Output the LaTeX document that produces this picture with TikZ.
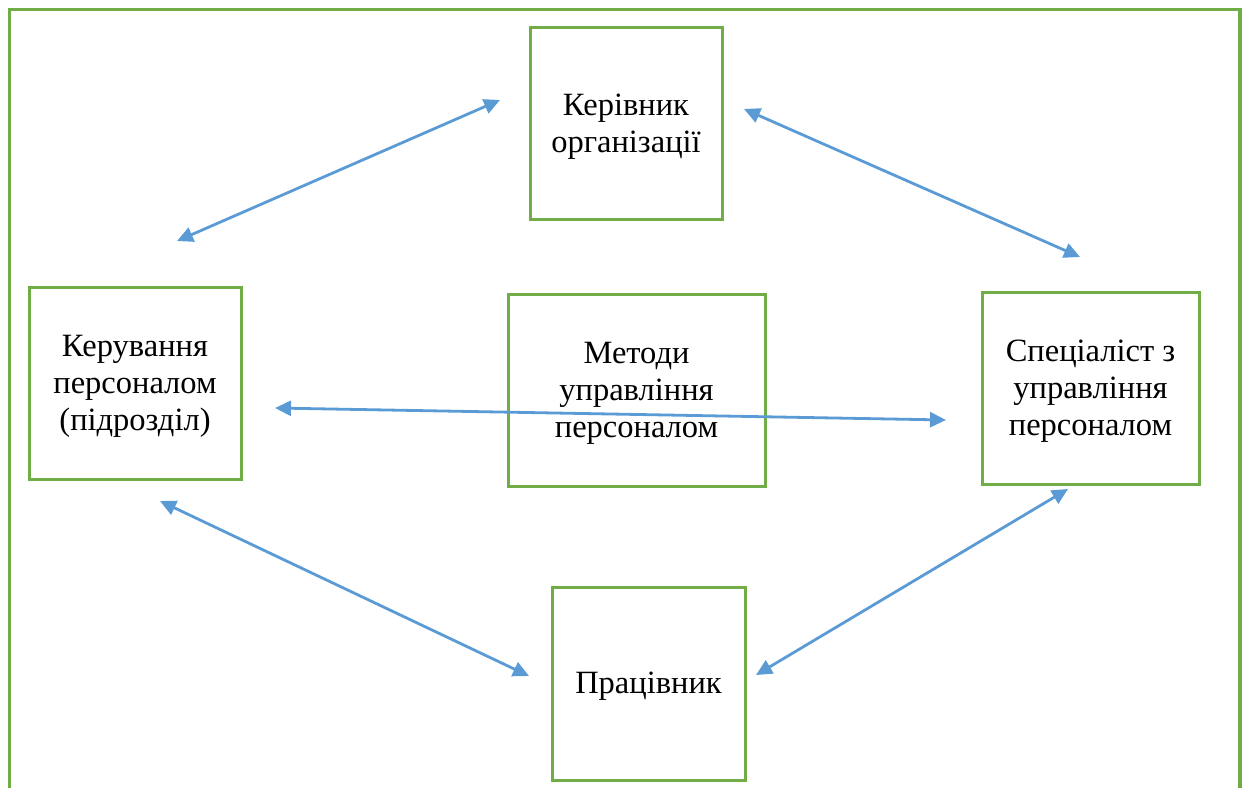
\documentclass[tikz,border=0pt]{standalone}
\usepackage{fontspec}
\setmainfont{Liberation Serif}
\usetikzlibrary{arrows.meta}
\definecolor{boxgreen}{RGB}{112,173,71}
\definecolor{arrblue}{RGB}{91,155,213}
\begin{document}
\begin{tikzpicture}[x=1pt,y=-1pt,
  box/.style={draw=boxgreen,line width=3pt,inner sep=0pt},
  lbl/.style={align=center,inner sep=0pt,yshift=-3.5pt,font=\fontsize{32.5}{37}\selectfont},
  link/.style={draw=arrblue,line width=2.8pt,{Triangle[length=16pt,width=15pt]}-{Triangle[length=16pt,width=15pt]}}]
\useasboundingbox (0,0) rectangle (1246,787);
\draw[boxgreen,line width=3.5pt] (9.5,830) -- (9.5,9.5) -- (1240,9.5) -- (1240,830);
\node[box,minimum width=192pt,minimum height=192pt,label={[lbl]center:Керівник\\організації}] (top) at (626,123) {};
\node[box,minimum width=212pt,minimum height=192pt,label={[lbl]center:Керування\\персоналом\\(підрозділ)}] (left) at (135,383) {};
\node[box,minimum width=257pt,minimum height=192pt,label={[lbl]center:Методи\\управління\\персоналом}] (mid) at (636.5,390) {};
\node[box,minimum width=217pt,minimum height=192pt,label={[lbl]center:Спеціаліст з\\управління\\персоналом}] (right) at (1090.5,388) {};
\node[box,minimum width=193pt,minimum height=193pt,label={[lbl,yshift=1.5pt]center:Працівник}] (bot) at (648.5,684) {};
\coordinate (a1) at (177,241); \coordinate (b1) at (500,100);
\coordinate (a2) at (744,109); \coordinate (b2) at (1080,257);
\coordinate (a3) at (275,408); \coordinate (b3) at (946,420);
\coordinate (a4) at (160,501); \coordinate (b4) at (529,676);
\coordinate (a5) at (756,675); \coordinate (b5) at (1068,489);
\draw[link] (a1) -- (b1);
\draw[link] (a2) -- (b2);
\draw[link] (a3) -- (b3);
\draw[link] (a4) -- (b4);
\draw[link] (a5) -- (b5);
\end{tikzpicture}
\end{document}
